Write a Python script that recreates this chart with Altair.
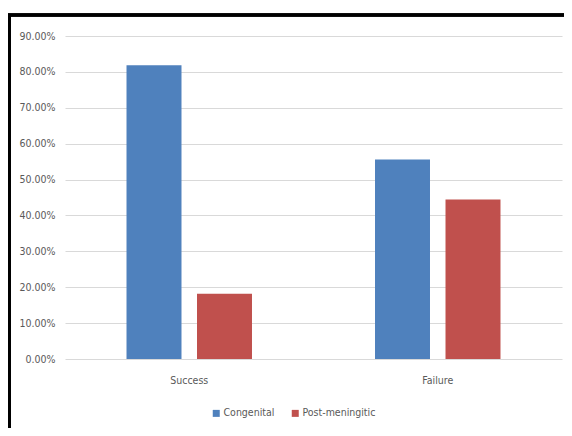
import altair as alt
import pandas as pd

categories = ["Success", "Failure"]
series = ["Congenital", "Post-meningitic"]
congenital = [0.8182, 0.5556]
post_meningitic = [0.1818, 0.4444]
colors = ["#4F81BD", "#C0504D"]

rows = []
for i, c in enumerate(categories):
    rows.append({"cat": c, "series": series[0], "value": congenital[i]})
    rows.append({"cat": c, "series": series[1], "value": post_meningitic[i]})
df = pd.DataFrame(rows)

FONT = "DejaVu Sans Condensed, DejaVu Sans"
W, H = 497, 323

bars = alt.Chart(df).mark_bar().encode(
    x=alt.X("cat:N", sort=categories, title=None,
            scale=alt.Scale(paddingInner=0, paddingOuter=0),
            axis=alt.Axis(labelAngle=0, domain=False, ticks=False, labelPadding=16,
                          labelFontSize=10.5, labelColor="#595959", labelFont=FONT)),
    xOffset=alt.XOffset("series:N", sort=series,
                        scale=alt.Scale(paddingInner=0.22, paddingOuter=0.8725)),
    y=alt.Y("value:Q", title=None,
            scale=alt.Scale(domain=[0, 0.9], nice=False),
            axis=alt.Axis(format=".2%", values=[i / 10 for i in range(10)],
                          domain=False, ticks=False, labelPadding=10,
                          labelFontSize=10.5, labelColor="#595959", labelFont=FONT,
                          gridColor="#d9d9d9", gridWidth=1)),
    color=alt.Color("series:N", sort=series, title=None,
                    scale=alt.Scale(domain=series, range=colors),
                    legend=alt.Legend(orient="none", direction="horizontal",
                                      legendX=146, legendY=372,
                                      symbolType="square", symbolSize=49,
                                      symbolStrokeWidth=0, labelFontSize=10.5,
                                      labelColor="#595959", labelFont=FONT,
                                      columnPadding=15, symbolOffset=0,
                                      labelOffset=2)),
)

top_border = alt.Chart(df).mark_rule(color="#000000", strokeWidth=3).encode(
    x=alt.value(-60), x2=alt.value(W + 10), y=alt.value(-21)
)
left_border = alt.Chart(df).mark_rule(color="#000000", strokeWidth=3).encode(
    x=alt.value(-55.5), y=alt.value(-22), y2=alt.value(H + 80)
)

chart = alt.layer(bars, top_border, left_border).properties(
    width=W, height=H,
    autosize=alt.AutoSizeParams(type="none"),
    padding={"left": 57, "top": 28, "right": 2, "bottom": 69},
    background="white",
).configure_view(stroke=None)

chart.save("out.html", embed_options={"renderer": "svg", "actions": False})
